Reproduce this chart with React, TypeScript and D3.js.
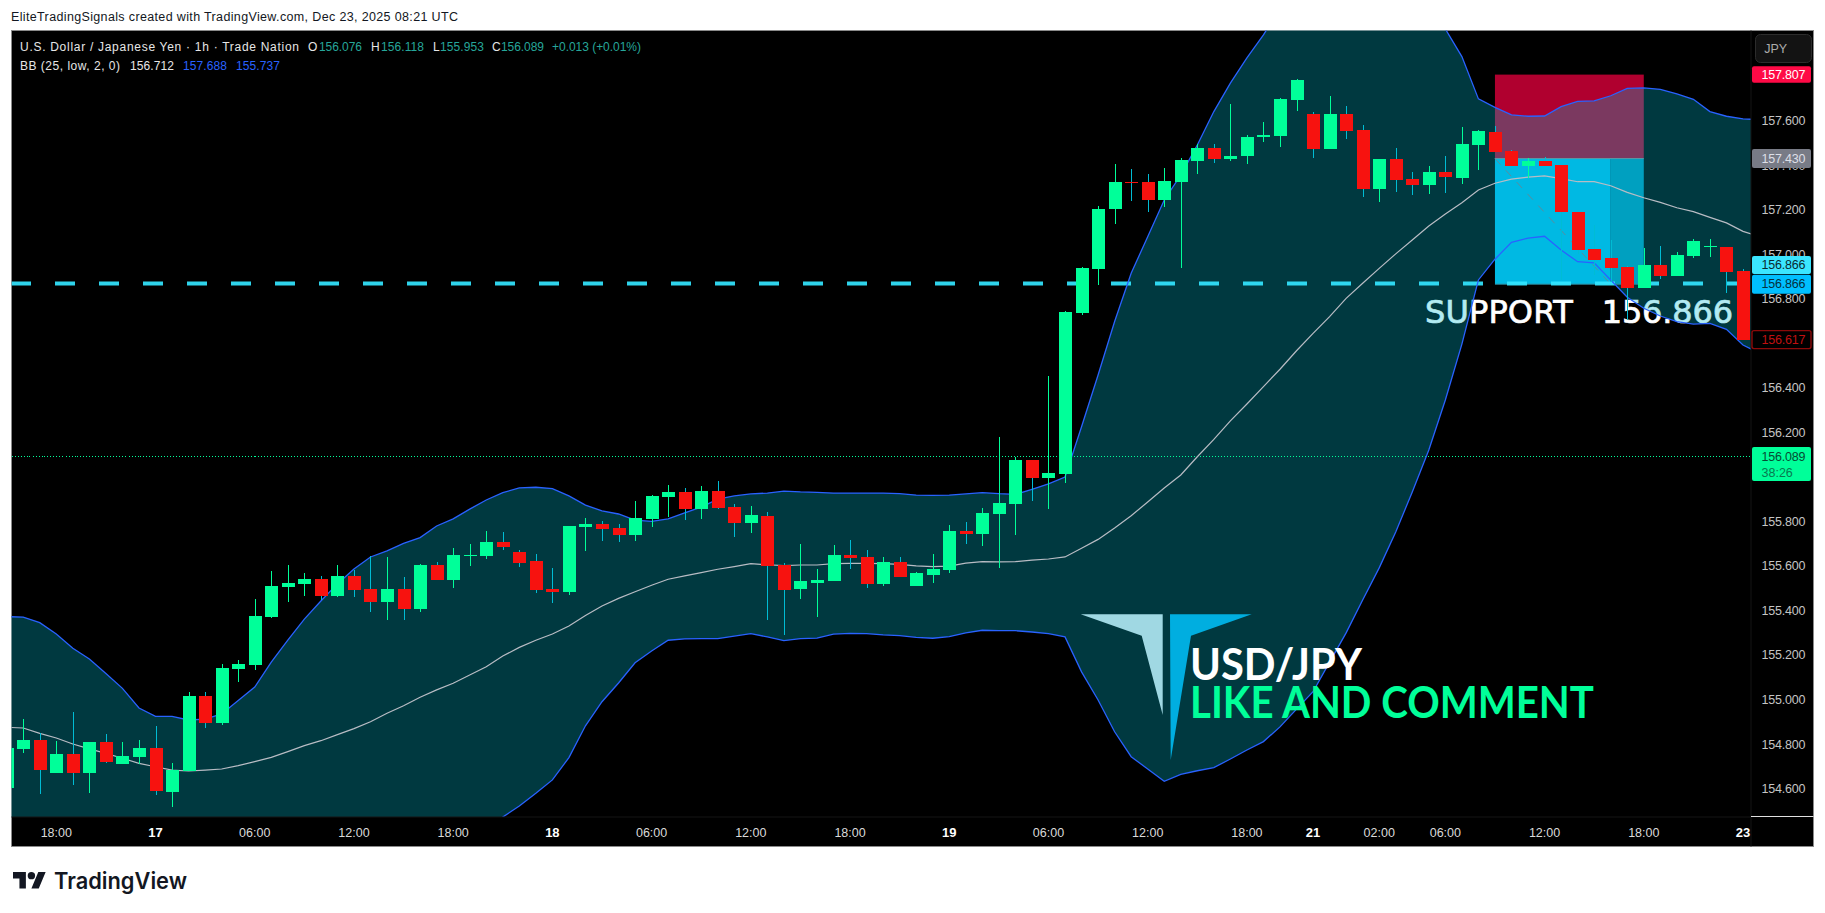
import React from "react";
import * as d3 from "d3";

// bar index 0 is Dec 16 15:00 (tick index below counts from that bar)
const opens = [154.604,154.779,154.819,154.671,154.756,154.671,154.810,154.711,154.743,154.783,154.586,154.680,155.017,154.895,155.138,155.156,155.371,155.506,155.520,155.542,155.466,155.556,155.497,155.439,155.497,155.407,155.605,155.538,155.645,155.645,
155.708,155.663,155.623,155.497,155.484,155.776,155.789,155.771,155.740,155.812,155.910,155.933,155.857,155.937,155.865,155.794,155.825,155.605,155.497,155.524,155.533,155.650,155.641,155.520,155.619,155.511,155.560,155.583,155.758,155.744,155.834,
155.879,156.077,155.996,156.014,156.737,156.934,157.204,157.325,157.325,157.244,157.325,157.419,157.477,157.428,157.442,157.527,157.531,157.693,157.630,157.473,157.630,157.558,157.293,157.428,157.338,157.311,157.370,
157.343,157.491,157.549,157.464,157.397,157.419,157.401,157.190,157.024,156.983,156.943,156.849,156.952,156.903,156.993,157.033,157.033,156.925];
const highs = [154.800,154.913,154.849,154.815,154.945,154.812,154.846,154.810,154.819,154.882,154.716,155.035,155.035,155.160,155.178,155.452,155.578,155.605,155.569,155.556,155.605,155.582,155.645,155.641,155.551,155.609,155.618,155.681,155.699,155.758,
155.753,155.672,155.654,155.592,155.780,155.816,155.803,155.789,155.892,155.919,155.964,155.951,155.960,155.982,155.879,155.870,155.843,155.614,155.699,155.587,155.695,155.717,155.672,155.641,155.641,155.574,155.654,155.785,155.798,155.861,156.180,
156.091,156.077,156.454,156.746,156.943,157.217,157.406,157.383,157.361,157.388,157.433,157.495,157.495,157.675,157.536,157.594,157.702,157.787,157.639,157.711,157.666,157.581,157.428,157.477,157.370,157.397,157.442,
157.572,157.558,157.576,157.469,157.433,157.437,157.401,157.190,157.132,157.064,156.947,157.028,157.037,157.010,157.069,157.069,157.033,156.934];
const lows = [154.580,154.761,154.577,154.680,154.617,154.581,154.716,154.711,154.711,154.572,154.518,154.680,154.873,154.886,155.080,155.133,155.367,155.439,155.466,155.448,155.461,155.461,155.394,155.358,155.358,155.394,155.538,155.502,155.600,155.632,
155.672,155.596,155.479,155.434,155.470,155.668,155.713,155.708,155.713,155.776,155.821,155.807,155.812,155.857,155.731,155.749,155.358,155.291,155.452,155.372,155.533,155.587,155.502,155.511,155.551,155.511,155.524,155.569,155.699,155.690,155.592,
155.740,155.892,155.856,155.973,156.728,156.862,157.136,157.240,157.190,157.213,156.939,157.361,157.410,157.419,157.406,157.504,157.482,157.644,157.433,157.473,157.518,157.257,157.235,157.280,157.266,157.271,157.275,
157.316,157.379,157.459,157.397,157.343,157.397,156.885,157.000,156.907,156.876,156.705,156.849,156.889,156.903,156.983,156.988,156.826,156.615];
const closes = [154.783,154.819,154.684,154.756,154.671,154.810,154.720,154.747,154.783,154.590,154.684,155.017,154.895,155.142,155.160,155.376,155.511,155.524,155.542,155.466,155.556,155.493,155.439,155.497,155.407,155.605,155.538,155.650,155.650,155.708,
155.686,155.614,155.493,155.484,155.780,155.789,155.767,155.740,155.816,155.915,155.933,155.857,155.937,155.861,155.794,155.830,155.601,155.493,155.533,155.538,155.650,155.636,155.520,155.619,155.551,155.569,155.587,155.758,155.744,155.839,155.883,
156.077,155.996,156.018,156.741,156.939,157.204,157.325,157.320,157.244,157.329,157.424,157.477,157.428,157.442,157.527,157.536,157.697,157.783,157.473,157.630,157.554,157.293,157.428,157.334,157.311,157.370,157.347,
157.495,157.554,157.459,157.397,157.419,157.397,157.190,157.019,156.974,156.938,156.849,156.952,156.903,156.997,157.060,157.037,156.921,156.615];

const bbUpper = [155.373,155.371,155.346,155.295,155.231,155.183,155.118,155.051,154.963,154.925,154.925,154.909,154.913,154.936,154.996,155.057,155.169,155.268,155.362,155.443,155.520,155.587,155.641,155.668,155.702,155.728,155.780,155.812,155.856,155.897,
155.930,155.951,155.954,155.948,155.915,155.874,155.848,155.834,155.806,155.801,155.812,155.839,155.865,155.901,155.915,155.924,155.928,155.937,155.933,155.931,155.928,155.928,155.928,155.928,155.925,155.919,155.918,155.919,155.924,155.930,155.925,
155.922,155.945,155.969,156.000,156.226,156.458,156.698,156.915,157.079,157.244,157.356,157.491,157.641,157.769,157.882,157.985,158.106,158.232,158.367,158.501,158.591,158.636,158.591,158.456,158.344,158.187,158.012,
157.888,157.698,157.660,157.626,157.620,157.621,157.663,157.687,157.689,157.712,157.745,157.747,157.741,157.720,157.696,157.641,157.620,157.608,157.605];
const bbBasis = [154.876,154.873,154.849,154.828,154.801,154.779,154.759,154.737,154.714,154.699,154.684,154.680,154.684,154.689,154.704,154.722,154.741,154.767,154.794,154.816,154.843,154.870,154.901,154.939,154.973,155.011,155.044,155.074,155.111,155.148,
155.196,155.235,155.267,155.295,155.331,155.378,155.421,155.455,155.485,155.514,155.541,155.556,155.571,155.586,155.598,155.611,155.606,155.602,155.605,155.605,155.611,155.612,155.612,155.611,155.608,155.601,155.598,155.600,155.613,155.620,155.619,
155.620,155.627,155.632,155.641,155.680,155.720,155.771,155.826,155.888,155.951,156.009,156.091,156.169,156.252,156.328,156.406,156.484,156.567,156.645,156.720,156.802,156.870,156.937,157.002,157.064,157.127,157.181,
157.232,157.289,157.319,157.338,157.347,157.352,157.340,157.326,157.326,157.308,157.278,157.254,157.233,157.209,157.192,157.166,157.141,157.103,157.079];
const bbLower = [154.384,154.379,154.352,154.361,154.370,154.375,154.402,154.424,154.460,154.460,154.440,154.440,154.450,154.440,154.420,154.388,154.315,154.262,154.222,154.186,154.164,154.150,154.159,154.213,154.240,154.298,154.307,154.339,154.366,154.397,
154.473,154.523,154.580,154.640,154.740,154.883,154.991,155.075,155.166,155.219,155.267,155.273,155.274,155.274,155.286,155.297,155.282,155.265,155.274,155.277,155.295,155.298,155.297,155.291,155.288,155.280,155.276,155.283,155.300,155.312,155.310,
155.310,155.304,155.297,155.282,155.125,154.999,154.856,154.744,154.689,154.634,154.665,154.681,154.695,154.734,154.774,154.812,154.878,154.958,155.036,155.169,155.300,155.448,155.592,155.753,155.933,156.121,156.346,
156.597,156.885,156.978,157.054,157.073,157.081,157.019,156.967,156.962,156.885,156.807,156.758,156.723,156.698,156.687,156.690,156.663,156.593,156.555];

const priceTicks = [157.6,157.4,157.2,157.0,156.8,156.6,156.4,156.2,156.0,155.8,155.6,155.4,155.2,155.0,154.8,154.6];
const timeTickBars = [3,9,15,21,27,33,39,45,51,57,63,69,75,79,83,87,93,99,105];
const timeTickLabels = ["18:00","17","06:00","12:00","18:00","18","06:00","12:00","18:00","19","06:00","12:00","18:00","21","02:00","06:00","12:00","18:00","23"];
const dayLabels = ["17","18","19","21","23"];

const entryPrice = 157.43;
const stopPrice = 157.807;
const targetPrice = 156.866;
const lastPrice = 156.089;
const lowTagPrice = 156.617;
const positionBars = [90, 97, 99];

const UP = "#00FF99";
const DOWN = "#F7120F";
const WICK_DOWN = "#00BCD4";
const BLUE = "#2962FF";
const FILL = "rgba(0,188,212,0.3)";
const AXIS = "#C4C4C4";
const UI = "'Liberation Sans', sans-serif";

const PANE = { left: 11.5, top: 30.5, right: 1751, bottom: 817, outerRight: 1813.5, outerBottom: 846.5 };
const x = d3.scaleLinear().domain([3, 105]).range([56.3, 1743]);
const y = d3.scaleLinear().domain([157.6, 154.6]).range([120.7, 788.8]);
const fmt = d3.format(".3f");

const band = d3.area<number>().x((_, i) => x(i)).y0((_, i) => y(bbLower[i])).y1((d) => y(d));
const line = d3.line<number>().x((_, i) => x(i)).y((d) => y(d));

function Tag({ price, fill, color, stroke, text, h = 18 }: any) {
  const cy = y(price);
  return (
    <g>
      <rect x={1752} y={cy - h / 2} width={59} height={h} rx={2} fill={fill} stroke={stroke || "none"} strokeWidth={stroke ? 1.4 : 0} />
      <text x={1761.5} y={cy + 4.3} fill={color} fontFamily={UI} fontSize={12.5} textLength={44}>{text}</text>
    </g>
  );
}

export default function App() {
  const candleBars = opens.map((o, i) => ({ i, o, h: highs[i], l: lows[i], c: closes[i] }));
  const [posL, posM, posR] = positionBars.map((b) => x(b));
  const lastY = Math.round(y(lastPrice)) - 0.5;
  return (
    <svg width={1825} height={913} style={{ position: "fixed", left: 0, top: 0, background: "#fff", display: "block" }}>
      <defs>
        <clipPath id="pane"><rect x={PANE.left} y={PANE.top} width={PANE.right - PANE.left} height={PANE.bottom - PANE.top} /></clipPath>
      </defs>
      <text x={11} y={21} fontFamily={UI} fontSize={12.5} fill="#131722" textLength={447}>EliteTradingSignals created with TradingView.com, Dec 23, 2025 08:21 UTC</text>

      <rect x={PANE.left} y={PANE.top} width={PANE.outerRight - PANE.left} height={PANE.outerBottom - PANE.top} fill="#000" stroke="#8a8a8a" strokeWidth={1} />

      <g clipPath="url(#pane)">
        <rect x={posL} y={y(stopPrice)} width={posR - posL} height={y(entryPrice) - y(stopPrice)} fill="#B0002F" />
        <text x={1425} y={323} fontFamily="'DejaVu Sans', sans-serif" fontSize={32} fill="#fff" stroke="#fff" strokeWidth={0.7} textLength={147.7}>SUPPORT</text>
        <text x={1601.7} y={323} fontFamily="'DejaVu Sans', sans-serif" fontSize={32} fill="#fff" stroke="#fff" strokeWidth={0.7} textLength={131.3}>156.866</text>
        <path d={band(bbUpper) || ""} fill={FILL} />
        <rect x={posL} y={y(entryPrice)} width={posM - posL} height={y(targetPrice) - y(entryPrice)} fill="#00B9E3" />
        <rect x={posM} y={y(entryPrice)} width={posR - posM} height={y(targetPrice) - y(entryPrice)} fill="#00A0C0" />
        <line x1={posL} x2={posR} y1={y(entryPrice)} y2={y(entryPrice)} stroke="#5A9AA8" strokeWidth={1} />
        <line x1={posL} x2={posR} y1={y(targetPrice)} y2={y(targetPrice)} stroke="#2F8FA5" strokeWidth={1} />
        <line x1={posL} x2={posM} y1={y(entryPrice)} y2={y(targetPrice)} stroke="#5F8A9A" strokeWidth={1} strokeDasharray="8 8" />
        <line x1={PANE.left} x2={PANE.right} y1={y(targetPrice) - 0.6} y2={y(targetPrice) - 0.6} stroke="#33E5FF" strokeOpacity={0.92} strokeWidth={4} strokeDasharray="20 24" strokeDashoffset={0.5} />
        <line x1={PANE.left} x2={PANE.right} y1={lastY} y2={lastY} stroke={UP} strokeWidth={1} strokeDasharray="1 2" shapeRendering="crispEdges" />

        <path d="M1080.7 614.3H1162.7V715L1141.7 635.7Z" fill="#A0D8E3" />
        <path d="M1170 614.3H1251.7L1191 635.7L1170.7 760Z" fill="#00AEE0" />

        <path d={line(bbUpper) || ""} fill="none" stroke={BLUE} strokeWidth={1.3} />
        <path d={line(bbLower) || ""} fill="none" stroke={BLUE} strokeWidth={1.3} />
        <path d={line(bbBasis) || ""} fill="none" stroke="#B8BCC4" strokeWidth={1.2} />

        {candleBars.map((b) => {
          const up = b.c >= b.o;
          const cx = Math.round(x(b.i));
          const top = y(Math.max(b.o, b.c));
          const bottom = y(Math.min(b.o, b.c));
          return (
            <g key={b.i} shapeRendering="crispEdges">
              <line x1={cx + 0.5} x2={cx + 0.5} y1={y(b.h)} y2={y(b.l)} stroke={up ? UP : WICK_DOWN} strokeWidth={1} />
              <rect x={cx - 6} y={top} width={13} height={Math.max(1, bottom - top)} fill={up ? UP : DOWN} />
            </g>
          );
        })}

        <text x={1190} y={680} fontFamily="Lato, sans-serif" fontWeight={700} fontSize={43} fill="#fff" textLength={172} lengthAdjust="spacingAndGlyphs">USD/JPY</text>
        <text x={1190} y={718} fontFamily="Lato, sans-serif" fontWeight={700} fontSize={43} fill={UP} textLength={404} lengthAdjust="spacingAndGlyphs">LIKE AND COMMENT</text>
      </g>

      <rect x={PANE.right} y={PANE.top + 0.5} width={PANE.outerRight - PANE.right - 0.5} height={PANE.outerBottom - PANE.top - 1} fill="#000" />
      <line x1={PANE.right} x2={PANE.right} y1={PANE.top} y2={PANE.outerBottom} stroke="#141414" />
      <line x1={PANE.left} x2={PANE.right} y1={PANE.bottom} y2={PANE.bottom} stroke="#141414" />
      <line x1={PANE.right} x2={PANE.outerRight} y1={816.5} y2={816.5} stroke="#E0E0E0" strokeWidth={1} />

      {priceTicks.map((p) => (
        <text key={p} x={1761.5} y={y(p) + 4.3} fill={AXIS} fontFamily={UI} fontSize={12.5} textLength={44}>{fmt(p)}</text>
      ))}

      {timeTickBars.map((b, i) => {
        const bold = dayLabels.includes(timeTickLabels[i]);
        return (
          <text key={b} x={x(b)} y={836.5} textAnchor="middle" fill={bold ? "#fff" : "#DADADA"} fontWeight={bold ? 700 : 400} fontFamily={UI} fontSize={bold ? 13 : 12.5}>{timeTickLabels[i]}</text>
        );
      })}

      <rect x={1755.5} y={34.5} width={56} height={28} rx={5} fill="#131313" stroke="#2C2C2C" />
      <text x={1775.7} y={53} textAnchor="middle" fill="#ABABAB" fontFamily={UI} fontSize={12.5}>JPY</text>

      <Tag price={stopPrice} fill="#FF0A46" color="#fff" text={fmt(stopPrice)} h={16.5} />
      <Tag price={entryPrice} fill="#787B86" color="#DDDFE6" text={fmt(entryPrice)} h={19} />
      <Tag price={targetPrice + 0.086} fill="#3BE5FF" color="#0A2A30" text={fmt(targetPrice)} h={18} />
      <Tag price={targetPrice} fill="#00BFFF" color="#06303D" text={fmt(targetPrice)} h={19} />
      <Tag price={lowTagPrice} fill="#000" color="#C01010" stroke="#8B0A0A" text={fmt(lowTagPrice)} h={18} />

      <rect x={1752} y={447} width={59} height={34} rx={2} fill={UP} />
      <text x={1761.5} y={461} fill="#064B33" fontFamily={UI} fontSize={12.5} textLength={44}>{fmt(lastPrice)}</text>
      <text x={1761.5} y={476.5} fill="#087A50" fontFamily={UI} fontSize={12.5}>38:26</text>

      <g fontFamily={UI} fontSize={12} fill="#E6E6E6">
        <text x={20} y={51} textLength={279}>U.S. Dollar / Japanese Yen · 1h · Trade Nation</text>
        <text x={308} y={51}>O</text>
        <text x={319} y={51} fill="#26A69A" textLength={43}>156.076</text>
        <text x={371} y={51}>H</text>
        <text x={381} y={51} fill="#26A69A" textLength={43}>156.118</text>
        <text x={433} y={51}>L</text>
        <text x={440} y={51} fill="#26A69A" textLength={44}>155.953</text>
        <text x={492} y={51}>C</text>
        <text x={501} y={51} fill="#26A69A" textLength={43}>156.089</text>
        <text x={552} y={51} fill="#26A69A" textLength={89}>+0.013 (+0.01%)</text>
        <text x={20} y={70} textLength={100}>BB (25, low, 2, 0)</text>
        <text x={130} y={70} textLength={44}>156.712</text>
        <text x={183} y={70} fill={BLUE} textLength={44}>157.688</text>
        <text x={236} y={70} fill={BLUE} textLength={44}>155.737</text>
      </g>

      <g transform="translate(13 868.3) scale(0.92)" fill="#131722">
        <path d="M14 22H7V11H0V4h14v18zM28 22h-8l7.5-18h8L28 22z" />
        <circle cx={20} cy={8} r={4} />
      </g>
      <text x={54} y={888.5} fontFamily="Inter, Roboto, sans-serif" fontWeight={600} fontSize={22.5} fill="#131722" textLength={133} lengthAdjust="spacingAndGlyphs">TradingView</text>
    </svg>
  );
}
